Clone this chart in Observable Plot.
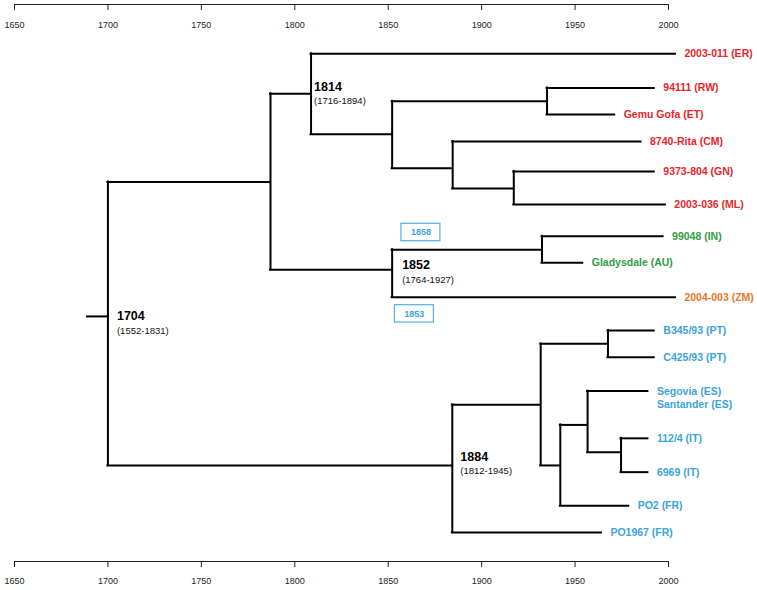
<!DOCTYPE html>
<html><head><meta charset="utf-8">
<script src="https://cdn.jsdelivr.net/npm/d3@7"></script>
<script src="https://cdn.jsdelivr.net/npm/@observablehq/plot@0.6"></script>
<style>body{margin:0;background:#fff}</style>
</head><body><div id="chart"></div>
<script>
// ---- Internal nodes of the dated tree (year of node, vertical row) ----
const nodeIds     = ["root","B","N1814","C","D","E","F","N1852","G","N1884","I","H","J","K","L"];
const nodeParents = [null,"root","B","N1814","C","C","E","B","N1852","root","N1884","I","I","J","K"];
const nodeYears   = [1700.0,1787.0,1808.7,1852.1,1935.0,1884.5,1917.2,1852.1,1932.3,1884.3,1931.6,1967.6,1942.1,1956.7,1974.6];
const nodeRows    = [9.23,5.02,2.25,3.52,2.49,4.59,5.22,7.77,7.14,13.90,12.00,10.09,13.90,12.63,13.49];
const rootStubYear = 1689.1;

// ---- Tips ----
const tipLabels  = ["2003-011 (ER)","94111 (RW)","Gemu Gofa (ET)","8740-Rita (CM)","9373-804 (GN)","2003-036 (ML)","99048 (IN)","Gladysdale (AU)","2004-003 (ZM)","B345/93 (PT)","C425/93 (PT)","Segovia (ES)\nSantander (ES)","112/4 (IT)","6969 (IT)","PO2 (FR)","PO1967 (FR)"];
const tipParents = ["N1814","D","D","E","F","F","G","G","N1852","H","H","K","L","L","J","N1884"];
const tipYears   = [2003.7,1992.4,1971.2,1985.3,1992.4,1998.3,1997.1,1954.1,2003.7,1992.4,1992.4,1989.0,1989.0,1989.0,1978.7,1964.1];
const tipRows    = [1.00,2.07,2.90,3.75,4.69,5.72,6.72,7.55,8.63,9.67,10.51,11.57,13.05,14.11,15.16,16.00];
const tipGroups  = ["Africa","Africa","Africa","Africa","Africa","Africa","IN-AU","IN-AU","ZM","Europe","Europe","Europe","Europe","Europe","Europe","Europe"];

const groupNames  = ["Africa","IN-AU","ZM","Europe"];
const groupColors = ["#e8262c","#2f9e44","#e5782a","#3ba4dc"];

// ---- Node age labels ----
const nodeLabelIds  = ["root","N1814","N1852","N1884"];
const nodeLabelMain = ["1704","1814","1852","1884"];
const nodeLabelCI   = ["(1552-1831)","(1716-1894)","(1764-1927)","(1812-1945)"];

// ---- Boxed annotations ----
const annTexts = ["1858","1853"];
const annYears = [1867.5,1864.0];
const annRows  = [6.60,9.15];

// ---- Axes ----
const tickYears = [1650,1700,1750,1800,1850,1900,1950,2000];
const axisRowTop = -0.545, axisRowBottom = 16.91;

// layout offsets for node labels (px)
const mainDx = [9,3,10,8], mainDy = [0,-7,-5,-8], ciDy = [14.5,7.4,10,6];

// ---- Build tables ----
const nodes = nodeIds.map((id,i)=>({id, parent:nodeParents[i], year:nodeYears[i], row:nodeRows[i]}));
const byId = new Map(nodes.map(n=>[n.id,n]));
const tips = tipLabels.map((label,i)=>({label, parent:tipParents[i], year:tipYears[i], row:tipRows[i], group:tipGroups[i]}));

const hEdges = [];
for (const n of nodes) if (n.parent) hEdges.push({x1:byId.get(n.parent).year, x2:n.year, row:n.row});
for (const t of tips) hEdges.push({x1:byId.get(t.parent).year, x2:t.year, row:t.row});
hEdges.push({x1:rootStubYear, x2:byId.get("root").year, row:byId.get("root").row});

const vEdges = nodes.map(n=>{
  const kids = [...nodes.filter(m=>m.parent===n.id), ...tips.filter(t=>t.parent===n.id)].map(k=>k.row);
  return {x:n.year, y1:d3.min(kids), y2:d3.max(kids)};
});

const nodeLabels = nodeLabelIds.map((id,i)=>({year:byId.get(id).year, row:byId.get(id).row, main:nodeLabelMain[i], ci:nodeLabelCI[i], i}));
const anns = annTexts.map((t,i)=>({text:t, year:annYears[i], row:annRows[i]}));

const single = tips.filter(t=>!t.label.includes("\n"));
const multi = tips.filter(t=>t.label.includes("\n"));

const marks = [
  // axes
  Plot.ruleY([axisRowTop, axisRowBottom], {y:d=>d, x1:1650, x2:2000, stroke:"#222", strokeWidth:1}),
  Plot.ruleX(tickYears, {x:d=>d, y1:axisRowTop, y2:axisRowTop, insetBottom:-6, stroke:"#222", strokeWidth:1}),
  Plot.ruleX(tickYears, {x:d=>d, y1:axisRowBottom, y2:axisRowBottom, insetBottom:-6, stroke:"#222", strokeWidth:1}),
  Plot.text(tickYears, {x:d=>d, y:axisRowTop, text:d=>String(d), dy:21, fontSize:9, fill:"#222"}),
  Plot.text(tickYears, {x:d=>d, y:axisRowBottom, text:d=>String(d), dy:20, fontSize:9, fill:"#222"}),
  // tree
  Plot.ruleY(hEdges, {y:"row", x1:"x1", x2:"x2", stroke:"black", strokeWidth:2, strokeLinecap:"square"}),
  Plot.ruleX(vEdges, {x:"x", y1:"y1", y2:"y2", stroke:"black", strokeWidth:2, strokeLinecap:"square"}),
  // tips
  Plot.text(single, {x:"year", y:"row", text:"label", fill:"group", dx:9, textAnchor:"start", fontWeight:"bold", fontSize:10.5}),
  Plot.text(multi, {x:"year", y:"row", text:"label", fill:"group", dx:9, dy:6, textAnchor:"start", fontWeight:"bold", fontSize:10.5, lineHeight:1.24}),
  // boxed annotations
  Plot.rect(anns, {x1:"year", x2:"year", y1:"row", y2:"row", insetLeft:-19.5, insetRight:-19.5, insetTop:-8.7, insetBottom:-8.7, fill:"white", stroke:"#55b2e6", strokeWidth:1.2}),
  Plot.text(anns, {x:"year", y:"row", text:"text", fill:"#3ba4dc", fontWeight:"bold", fontSize:9}),
];
nodeLabels.forEach((d,k)=>{
  marks.push(Plot.text([d], {x:"year", y:"row", text:"main", dx:mainDx[k], dy:mainDy[k], textAnchor:"start", fontWeight:"bold", fontSize:12.5, fill:"black"}));
  marks.push(Plot.text([d], {x:"year", y:"row", text:"ci", dx:mainDx[k], dy:ciDy[k], textAnchor:"start", fontSize:9.5, fill:"#111"}));
});

const chart = Plot.plot({
  width:757, height:590,
  marginLeft:14, marginRight:89, marginTop:4, marginBottom:29,
  x:{domain:[1650,2000], axis:null},
  y:{domain:[axisRowTop, axisRowBottom], reverse:true, axis:null},
  color:{domain:groupNames, range:groupColors},
  style:{fontFamily:"'Liberation Sans', Arial, sans-serif", background:"white", overflow:"visible"},
  marks
});
document.getElementById("chart").appendChild(chart);
</script>
</body></html>
